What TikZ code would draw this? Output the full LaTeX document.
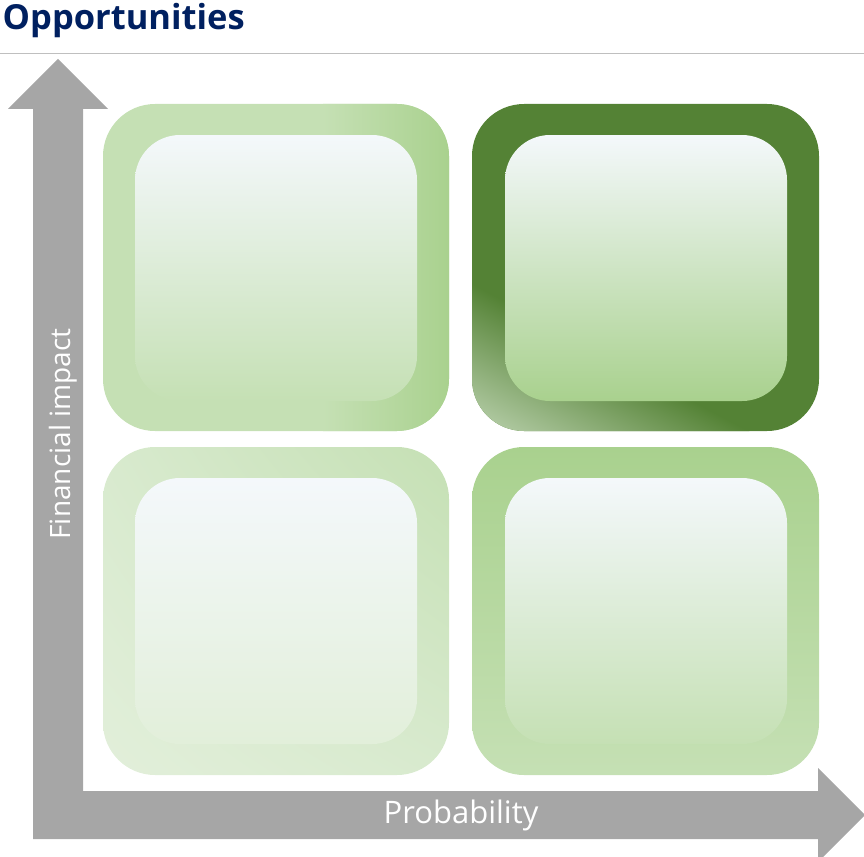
\documentclass[tikz,border=0pt]{standalone}
\usepackage{fontspec}
\setmainfont{Open Sans}
\usetikzlibrary{shadings}
\definecolor{navy}{HTML}{002060}
\definecolor{rulegray}{HTML}{BFBFBF}
\definecolor{axisgray}{HTML}{A6A6A6}
\definecolor{lgA}{HTML}{C5E0B4}
\definecolor{lgB}{HTML}{A9D18E}
\definecolor{lgC}{HTML}{E2EFDA}
\definecolor{dgreen}{HTML}{548235}
\definecolor{ice}{HTML}{F4F8FB}
\definecolor{trlight}{HTML}{D4E5CC}
\definecolor{blmid}{HTML}{D8EACE}
\definecolor{brmid}{HTML}{C0DDAD}
\tikzset{
  outerbox/.style={rounded corners=52pt},
  innerbox/.style={rounded corners=45pt},
  axislabel/.style={text=white, inner sep=0pt}
}
\begin{document}
\begin{tikzpicture}[x=1pt,y=-1pt]
\useasboundingbox (0,0) rectangle (864,856);
% title
\node[anchor=base west, inner sep=0pt, text=navy, font=\bfseries\fontsize{34.5}{40}\selectfont] (title) at (2.5,30) {Opportunities};
\draw[rulegray, line width=1.5pt] (0,53.3) -- (864,53.3);
% axes
\fill[axisgray] (33,839) -- (33,109) -- (8,109) -- (58,59) -- (108,109) -- (83,109) -- (83,791)
  -- (818,791) -- (818,768) -- (865,815) -- (818,862) -- (818,839) -- cycle;
\node[axislabel, rotate=90, anchor=base, font=\fontsize{28}{34}\selectfont] (fin) at (70.5,434) {Financial impact};
\node[axislabel, anchor=base, font=\fontsize{31}{36}\selectfont] (prob) at (461,823.5) {Probability};
% top-left
\begin{scope}
  \clip[outerbox] (103,104) rectangle (449,431);
  \fill[lgA] (100,100) rectangle (452,435);
  \shade[left color=lgA, right color=lgB] (323,100) rectangle (450,435);
\end{scope}
\shade[innerbox, top color=ice, bottom color=lgA] (135,135) rectangle (417,401);
% top-right
\begin{scope}
  \clip[outerbox] (472,104) rectangle (819,431);
  \fill[dgreen] (470,100) rectangle (822,435);
  \begin{scope}[transform canvas={shift={(472,431)}, rotate=62}]
    \shade[left color=trlight, right color=dgreen] (-30,-600) rectangle (130,600);
  \end{scope}
\end{scope}
\shade[innerbox, top color=ice, bottom color=lgB] (505,135) rectangle (787,401);
% bottom-left
\shade[outerbox, upper left=blmid, upper right=lgA, lower left=lgC, lower right=blmid] (103,447) rectangle (449,775);
\shade[innerbox, top color=ice, bottom color=lgC] (135,478) rectangle (417,744);
% bottom-right
\shade[outerbox, top color=lgB, middle color=brmid, bottom color=lgA] (472,447) rectangle (819,775);
\shade[innerbox, top color=ice, bottom color=lgA] (505,478) rectangle (787,744);
\end{tikzpicture}
\end{document}
